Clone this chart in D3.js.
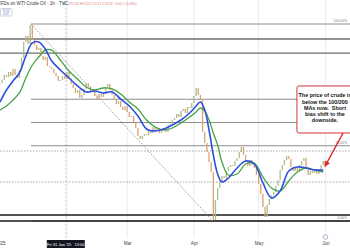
<!DOCTYPE html>
<html>
<head>
<meta charset="utf-8">
<script src="https://cdn.jsdelivr.net/npm/d3@7/dist/d3.min.js"></script>
<style>
  body { margin: 0; background: #fff; }
  svg { display: block; font-family: "Liberation Sans", Arial, sans-serif; }
</style>
</head>
<body>
<div id="chart"></div>
<script>
// one close per calendar day, starting 1 Jan 2025
const startDay = new Date(2025, 0, 1);
const closes = [
  73.09, 73.48, 74.13, 73.87, 74.52, 74.00, 74.91, 74.13, 73.74, 74.78,
  76.34, 78.43, 79.21, 78.17, 80.64, 78.69, 78.04, 77.38, 77.65, 76.60,
  76.08, 76.47, 75.30, 75.17, 74.91, 74.39, 74.00, 73.35, 73.48, 74.00,
  73.61, 74.52, 73.74, 72.96, 72.44, 71.79, 72.18, 71.14, 71.53, 72.31,
  73.09, 72.70, 72.05, 72.31, 71.40, 71.00, 71.66, 71.27, 71.92, 72.57,
  72.96, 72.18, 71.53, 70.87, 70.35, 70.74, 69.96, 69.57, 70.09, 69.31,
  68.66, 68.79, 68.01, 67.23, 66.19, 65.80, 66.19, 66.45, 66.32, 66.84,
  66.58, 67.36, 66.97, 67.23, 66.58, 67.10, 67.23, 66.71, 67.62, 67.75,
  68.27, 68.53, 69.05, 68.66, 69.44, 69.70, 69.18, 69.96, 69.83, 70.48,
  71.40, 72.44, 71.53, 70.87, 66.71, 65.28, 64.10, 62.80, 61.50, 55.25,
  57.85, 59.42, 60.33, 60.98, 60.72, 61.63, 62.15, 62.41, 62.28, 62.93,
  63.32, 64.10, 64.76, 63.71, 62.80, 62.28, 63.06, 62.41, 62.02, 61.11,
  59.94, 58.64, 56.94, 55.64, 57.20, 57.98, 58.51, 58.90, 59.68, 60.46,
  61.76, 62.41, 63.06, 63.58, 63.19, 62.15, 61.63, 62.02, 61.63, 62.41,
  62.93, 63.32, 62.02, 61.11, 61.63, 61.37, 61.89, 61.24, 61.76, 62.41,
  62.93, 62.15
];

// moving averages, read at these day offsets
const maDay = [0, 3, 6, 9, 12, 15, 18, 21, 24, 28, 32, 36, 40, 44, 48, 52, 56, 60, 64, 68, 72, 76,
  80, 84, 88, 91, 93, 95, 97, 99, 101, 103, 106, 110, 114, 118, 122, 126, 130, 134, 138, 142, 146, 150];
const ma100 = [70.61, 72.18, 73.35, 74.39, 76.60, 78.30, 78.43, 77.51, 75.95,
  74.78, 73.74, 72.70, 71.92, 72.05, 71.79, 71.92, 71.00, 70.09, 68.79, 67.10, 66.84, 67.10, 67.62, 68.27, 69.18,
  70.09, 70.61, 69.57, 66.97, 63.71, 61.24, 60.20,
  60.72, 62.02, 62.93, 62.54, 60.07, 58.12, 59.03, 61.63, 62.15, 62.02, 61.76, 61.76];
const ma200 = [69.57, 70.09, 70.87, 71.79, 73.74, 75.43, 76.47, 77.38, 77.38,
  76.08, 74.65, 73.61, 72.57, 72.18, 72.44, 72.31, 71.66, 70.61, 69.70, 68.27, 67.36, 66.97, 67.23, 67.88, 68.66,
  69.31, 69.83, 69.44, 68.27, 66.58, 65.02, 62.80,
  61.11, 61.24, 62.54, 62.67, 60.85, 59.42, 59.03, 60.33, 61.50, 62.02, 61.76, 61.50];

// fibonacci retracement from the Jan high to the Apr low
const fibHigh = 80.77, fibLow = 55.12;
const fibStart = new Date(2025, 0, 15, 10);
const fibEnd = new Date(2025, 3, 9, 19);
const fibLevels = [1, 0.618, 0.5, 0.382, 0];
const fibLabelLevels = [1, 0.382, 0];
const fibLabels = ["100.00%", "38.20%", "0.00%"];

const solidLevels = [78.82, 76.99];
const blackLevels = [55.90, 55.12];
const dottedLevels = [64.23, 60.20];

// Feb is covered by the crosshair time label
const monthTicks = [0, 2, 3, 4, 5].map(m => new Date(2025, m, 1));
const gridMonths = [1, 2, 3, 4, 5].map(m => new Date(2025, m, 1));
const crossTime = new Date(2025, 0, 31, 13);

const noteLines = ["The price of crude is", "below the 100/200", "MAs now.  Short", "bias shift to the", "downside."];
const noteLeft = new Date(2025, 4, 18, 19), noteTop = 72.70, noteBottom = 66.58;
const arrowFrom = [new Date(2025, 5, 9, 5), 66.58];
const arrowTo = [new Date(2025, 4, 31, 21), 62.28];

const width = 350, height = 250;

const svg = d3.select("#chart").append("svg")
    .attr("width", width)
    .attr("height", height);

const x = d3.scaleTime()
    .domain([startDay, new Date(2025, 5, 12, 10)])
    .range([0, width]);

const y = d3.scaleLinear()
    .domain([fibLow, fibHigh])
    .range([221, 24]);

// month grid
svg.append("g").selectAll("line")
    .data(gridMonths)
    .enter().append("line")
    .attr("x1", d => x(d)).attr("x2", d => x(d))
    .attr("y1", 0).attr("y2", 238)
    .attr("stroke", "#ebebeb");

// crosshair
svg.append("line")
    .attr("x1", x(crossTime)).attr("x2", x(crossTime))
    .attr("y1", 8).attr("y2", 238)
    .attr("stroke", "#b0b0b0")
    .attr("stroke-dasharray", "2,2")
    .attr("stroke-width", 0.6);

// horizontal levels
svg.append("g").selectAll("line")
    .data(dottedLevels)
    .enter().append("line")
    .attr("x1", 0).attr("x2", width)
    .attr("y1", d => y(d)).attr("y2", d => y(d))
    .attr("stroke", "#a8a8a8")
    .attr("stroke-dasharray", "1.5,1.5");

svg.append("g").selectAll("line")
    .data(solidLevels)
    .enter().append("line")
    .attr("x1", 0).attr("x2", width)
    .attr("y1", d => y(d)).attr("y2", d => y(d))
    .attr("stroke", "#6e6e6e")
    .attr("stroke-width", 1.3);

svg.append("g").selectAll("line")
    .data(fibLevels)
    .enter().append("line")
    .attr("x1", x(fibStart)).attr("x2", width)
    .attr("y1", d => y(fibLow + d * (fibHigh - fibLow)))
    .attr("y2", d => y(fibLow + d * (fibHigh - fibLow)))
    .attr("stroke", "#8c8c8c")
    .attr("stroke-width", 1);

svg.append("g").selectAll("line")
    .data(blackLevels)
    .enter().append("line")
    .attr("x1", 0).attr("x2", width)
    .attr("y1", d => y(d)).attr("y2", d => y(d))
    .attr("stroke", "#1a1a1a")
    .attr("stroke-width", 1.4);

svg.append("line")
    .attr("x1", x(fibStart)).attr("y1", y(fibHigh))
    .attr("x2", x(fibEnd)).attr("y2", y(fibLow))
    .attr("stroke", "#9a9a9a")
    .attr("stroke-dasharray", "1.5,1.5");

svg.append("g").selectAll("text")
    .data(fibLabelLevels)
    .enter().append("text")
    .attr("x", width - 3)
    .attr("y", d => y(fibLow + d * (fibHigh - fibLow)) - 1.8)
    .attr("text-anchor", "end")
    .style("font-size", "3.4px")
    .attr("fill", "#777")
    .text((d, i) => fibLabels[i]);

// candles, open = previous close
const candles = closes.map((c, i) => ({
  t: d3.timeDay.offset(startDay, i),
  o: i ? closes[i - 1] : c,
  c: c
}));

svg.append("g").selectAll("rect")
    .data(candles)
    .enter().append("rect")
    .attr("x", d => x(d.t) - 0.65)
    .attr("width", 1.3)
    .attr("y", d => y(Math.max(d.o, d.c)))
    .attr("height", d => Math.max(0.8, Math.abs(y(d.o) - y(d.c))))
    .attr("fill", d => d.c >= d.o ? "#a9bd8a" : "#dba170");

// moving averages
const maLine = vals => d3.line()
    .x((d, i) => x(d3.timeDay.offset(startDay, maDay[i])))
    .y(d => y(d))
    .curve(d3.curveCatmullRom)(vals);

svg.append("path")
    .attr("d", maLine(ma200))
    .attr("fill", "none")
    .attr("stroke", "#45a043")
    .attr("stroke-width", 1.3);

svg.append("path")
    .attr("d", maLine(ma100))
    .attr("fill", "none")
    .attr("stroke", "#2d4fde")
    .attr("stroke-width", 1.6);

// note box and arrow
const boxX = x(noteLeft), boxY = y(noteTop);
svg.append("rect")
    .attr("x", boxX).attr("y", boxY)
    .attr("width", width - boxX + 10)
    .attr("height", y(noteBottom) - boxY)
    .attr("rx", 2)
    .attr("fill", "#fff")
    .attr("stroke", "#d0343c")
    .attr("stroke-width", 1);

svg.append("g").selectAll("text")
    .data(noteLines)
    .enter().append("text")
    .attr("x", boxX + 28)
    .attr("y", (d, i) => boxY + 11.5 + i * 6.1)
    .attr("text-anchor", "middle")
    .style("font-size", "5.4px")
    .style("font-weight", "bold")
    .style("white-space", "pre")
    .attr("fill", "#111")
    .text(d => d);

svg.append("defs").append("marker")
    .attr("id", "arrow")
    .attr("viewBox", "0 0 10 10")
    .attr("refX", 8).attr("refY", 5)
    .attr("markerWidth", 4).attr("markerHeight", 4)
    .attr("orient", "auto")
    .append("path")
    .attr("d", "M0,0L10,5L0,10z")
    .attr("fill", "#e02a2a");

svg.append("line")
    .attr("x1", x(arrowFrom[0])).attr("y1", y(arrowFrom[1]))
    .attr("x2", x(arrowTo[0])).attr("y2", y(arrowTo[1]))
    .attr("stroke", "#e02a2a")
    .attr("stroke-width", 1.5)
    .attr("marker-end", "url(#arrow)");

// header
svg.append("text")
    .attr("x", -2.8).attr("y", 5)
    .style("font-size", "4.6px")
    .attr("fill", "#333")
    .text("CFDs on WTI Crude Oil · 1h · TVC");

svg.append("circle")
    .attr("cx", 64).attr("cy", 3.6).attr("r", 1.2)
    .attr("fill", "#26a69a");

svg.append("text")
    .attr("x", 68).attr("y", 5)
    .style("font-size", "3.3px")
    .attr("fill", "#e57373")
    .text("O72.30 H72.37 L72.17 C72.32 −0.02 (−0.03%)");

svg.append("rect")
    .attr("x", 0.5).attr("y", 8.5)
    .attr("width", 11.5).attr("height", 7.5)
    .attr("rx", 1)
    .attr("fill", "#fff")
    .attr("stroke", "#9aa6c8")
    .attr("stroke-width", 0.5);

svg.append("text")
    .attr("x", 6).attr("y", 11.6)
    .attr("text-anchor", "middle")
    .style("font-size", "2.8px")
    .attr("fill", "#5a6aa0")
    .text("72.32");

svg.append("text")
    .attr("x", 6).attr("y", 14.8)
    .attr("text-anchor", "middle")
    .style("font-size", "2.8px")
    .attr("fill", "#5a6aa0")
    .text("0.01");

// time axis
const axis = svg.append("g")
    .attr("transform", "translate(0,239)")
    .call(d3.axisBottom(x)
        .tickValues(monthTicks)
        .tickSize(0)
        .tickPadding(3)
        .tickFormat(d => d.getMonth() === 0 ? "2025" : d3.timeFormat("%b")(d)));
axis.select(".domain").remove();
axis.selectAll("text")
    .style("font-size", "4.6px")
    .style("font-family", "'Liberation Sans', Arial, sans-serif")
    .attr("fill", "#444");

// crosshair time label
const cx = x(crossTime);
svg.append("rect")
    .attr("x", cx - 19).attr("y", 240)
    .attr("width", 38).attr("height", 8)
    .attr("fill", "#131722");

svg.append("text")
    .attr("x", cx).attr("y", 245.6)
    .attr("text-anchor", "middle")
    .style("font-size", "4px")
    .style("white-space", "pre")
    .attr("fill", "#fff")
    .text("Fri 31 Jan '25   13:00");

svg.append("circle")
    .attr("cx", x(new Date(2025, 5, 1))).attr("cy", 237)
    .attr("r", 2.3)
    .attr("fill", "#fff")
    .attr("stroke", "#8a7ab0")
    .attr("stroke-width", 0.6);
</script>
</body>
</html>
